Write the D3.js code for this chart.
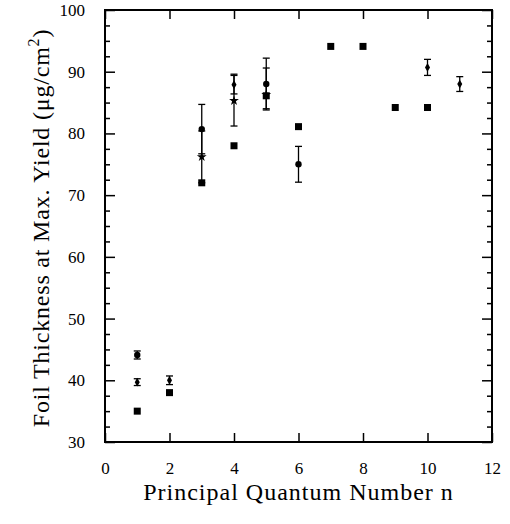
<!DOCTYPE html>
<html><head><meta charset="utf-8">
<script src="https://cdn.jsdelivr.net/npm/d3@7"></script>
<style>body{margin:0;background:#fff} svg text{font-family:"Liberation Serif","Times New Roman","DejaVu Serif",serif;}</style>
</head><body><svg id="c" width="510" height="524"></svg>
<script>
const xTicks=[0,2,4,6,8,10,12];
const yTicks=[30,40,50,60,70,80,90,100];
const yMinor=[32.5,35,37.5,42.5,45,47.5,52.5,55,57.5,62.5,65,67.5,72.5,75,77.5,82.5,85,87.5,92.5,95,97.5];
const squareN=[1,2,3,4,5,6,7,8,9,10];
const squareVal=[35.0,38.0,72.0,78.0,86.1,81.1,94.1,94.1,84.2,84.2];
const circleN=[1,3,5,6];
const circleVal=[44.1,80.7,88.0,75.0];
const circleErr=[0.65,4.0,4.2,2.9];
const starN=[3,4,5];
const starVal=[76.2,85.3,86.3];
const starErrHi=[4.2,4.3,4.3];
const starErrLo=[4.2,4.1,2.3];
const dotN=[1,2,4,10,11];
const dotVal=[39.7,40.0,87.9,90.7,88.0];
const dotErr=[0.55,0.7,1.5,1.3,1.2];

const L=105,R=492,T=10,B=442;
const x=d3.scaleLinear().domain([0,12]).range([L,R]);
const y=d3.scaleLinear().domain([30,100]).range([B,T]);
const svg=d3.select("#c");
const font="Liberation Serif";

// axes
const gB=svg.append("g").attr("transform",`translate(0,${B})`)
  .call(d3.axisBottom(x).tickValues(xTicks).tickSizeInner(-9).tickSizeOuter(0).tickPadding(20).tickFormat(d3.format("d")));
const gT=svg.append("g").attr("transform",`translate(0,${T})`)
  .call(d3.axisTop(x).tickValues(xTicks).tickSizeInner(-9).tickSizeOuter(0).tickFormat(""));
const gLm=svg.append("g").attr("transform",`translate(${L},0)`)
  .call(d3.axisLeft(y).tickValues(yMinor).tickSizeInner(-5).tickSizeOuter(0).tickFormat(""));
const gL=svg.append("g").attr("transform",`translate(${L},0)`)
  .call(d3.axisLeft(y).tickValues(yTicks).tickSizeInner(-10).tickSizeOuter(0).tickPadding(20).tickFormat(d3.format("d")));
const gRm=svg.append("g").attr("transform",`translate(${R},0)`)
  .call(d3.axisRight(y).tickValues(yMinor).tickSizeInner(-5).tickSizeOuter(0).tickFormat(""));
const gR=svg.append("g").attr("transform",`translate(${R},0)`)
  .call(d3.axisRight(y).tickValues(yTicks).tickSizeInner(-10).tickSizeOuter(0).tickFormat(""));
[gB,gT,gL,gLm,gR,gRm].forEach(g=>{
  g.attr("font-family",null).attr("font-size",null);
  g.select(".domain").remove();
  g.selectAll("line").attr("stroke","#000").attr("stroke-width",1.5);
  g.selectAll("text").style("font-family",font).style("font-size","17px").attr("fill","#000");
});
gB.selectAll("text").attr("dy","0.71em");
svg.append("rect").attr("x",L).attr("y",T).attr("width",R-L).attr("height",B-T)
  .attr("fill","none").attr("stroke","#000").attr("stroke-width",2);

// error bars
function errbars(ns,vals,lo,hi){
  const g=svg.append("g").attr("stroke","#000").attr("stroke-width",1.3);
  ns.forEach((n,i)=>{
    const cx=x(n), y1=y(vals[i]+hi[i]), y2=y(vals[i]-lo[i]);
    g.append("line").attr("x1",cx).attr("x2",cx).attr("y1",y1).attr("y2",y2);
    g.append("line").attr("x1",cx-3.5).attr("x2",cx+3.5).attr("y1",y1).attr("y2",y1);
    g.append("line").attr("x1",cx-3.5).attr("x2",cx+3.5).attr("y1",y2).attr("y2",y2);
  });
}
errbars(circleN,circleVal,circleErr,circleErr);
errbars(starN,starVal,starErrLo,starErrHi);
errbars(dotN,dotVal,dotErr,dotErr);

// markers
svg.append("g").selectAll("rect").data(squareN).join("rect")
  .attr("x",(d)=>x(d)-3.5).attr("y",(d,i)=>y(squareVal[i])-3.5)
  .attr("width",7).attr("height",7).attr("fill","#000");
svg.append("g").selectAll("circle").data(circleN).join("circle")
  .attr("cx",d=>x(d)).attr("cy",(d,i)=>y(circleVal[i])).attr("r",3.2).attr("fill","#000");
svg.append("g").selectAll("path").data(starN).join("path")
  .attr("d",d3.symbol(d3.symbolStar,30))
  .attr("transform",(d,i)=>`translate(${x(d)},${y(starVal[i])})`).attr("fill","#000");
svg.append("g").selectAll("path").data(dotN).join("path")
  .attr("d",d3.symbol(d3.symbolDiamond,22))
  .attr("transform",(d,i)=>`translate(${x(d)},${y(dotVal[i])})`).attr("fill","#000");

// titles
svg.append("text").attr("x",(L+R)/2).attr("y",500).attr("text-anchor","middle")
  .style("font-family",font).style("font-size","24px").attr("letter-spacing",1)
  .text("Principal Quantum Number n");
const yl=svg.append("text").attr("transform",`translate(49,${(T+B)/2+2}) rotate(-90)`)
  .attr("text-anchor","middle").style("font-family",font).style("font-size","24px").attr("letter-spacing",0.8);
yl.append("tspan").text("Foil Thickness at Max. Yield (\u03bcg/cm");
yl.append("tspan").attr("dy",-10).style("font-size","16px").text("2");
yl.append("tspan").attr("dy",10).text(")");
</script></body></html>
